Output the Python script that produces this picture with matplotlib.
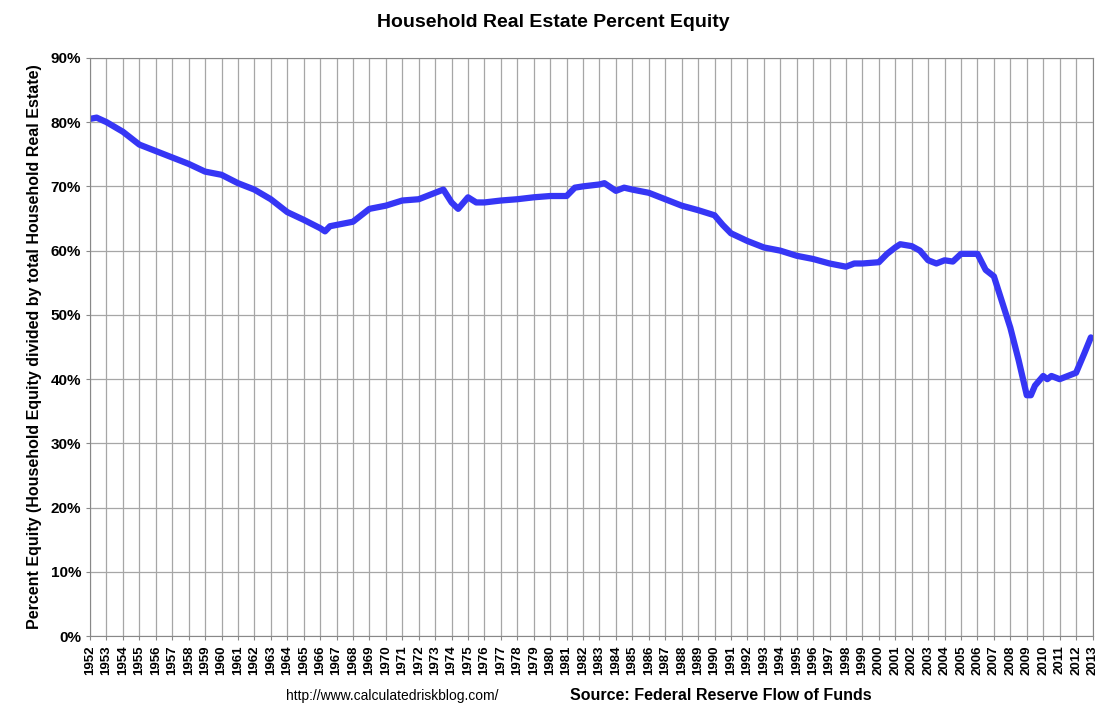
import matplotlib.pyplot as plt
from matplotlib.ticker import FuncFormatter

years = [1952.0, 1952.4, 1953.0, 1954.0, 1955.0, 1956.0, 1957.0, 1958.0, 1959.0, 1960.0,
         1961.0, 1962.0, 1963.0, 1964.0, 1965.0, 1966.0, 1966.3, 1966.6, 1967.0, 1968.0,
         1969.0, 1970.0, 1971.0, 1972.0, 1973.0, 1973.5, 1974.0, 1974.4, 1975.0, 1975.5,
         1976.0, 1977.0, 1978.0, 1979.0, 1980.0, 1981.0, 1981.5, 1982.0, 1983.0, 1983.3,
         1984.0, 1984.5, 1985.0, 1986.0, 1987.0, 1988.0, 1989.0, 1990.0, 1990.5, 1991.0,
         1992.0, 1993.0, 1994.0, 1995.0, 1996.0, 1997.0, 1998.0, 1998.5, 1999.0, 2000.0,
         2000.5, 2001.0, 2001.3, 2002.0, 2002.5, 2003.0, 2003.5, 2004.0, 2004.5, 2005.0,
         2006.0, 2006.5, 2007.0, 2007.5, 2008.0, 2008.5, 2009.0, 2009.25, 2009.5, 2010.0,
         2010.25, 2010.5, 2011.0, 2011.5, 2012.0, 2012.5, 2012.9]
equity = [80.5, 80.7, 80.0, 78.5, 76.5, 75.5, 74.5, 73.5, 72.3, 71.8,
          70.5, 69.5, 68.0, 66.0, 64.8, 63.5, 63.0, 63.8, 64.0, 64.5,
          66.5, 67.0, 67.8, 68.0, 69.0, 69.5, 67.5, 66.5, 68.3, 67.5,
          67.5, 67.8, 68.0, 68.3, 68.5, 68.5, 69.8, 70.0, 70.3, 70.5,
          69.3, 69.8, 69.5, 69.0, 68.0, 67.0, 66.3, 65.5, 64.0, 62.7,
          61.5, 60.5, 60.0, 59.2, 58.7, 58.0, 57.5, 58.0, 58.0, 58.2,
          59.5, 60.5, 61.0, 60.7, 60.0, 58.5, 58.0, 58.5, 58.3, 59.5,
          59.5, 57.0, 56.0, 52.0, 48.0, 43.0, 37.5, 37.5, 39.0, 40.5,
          40.0, 40.5, 40.0, 40.5, 41.0, 44.0, 46.5]
tick_years = list(range(1952, 2014))

plt.rcParams['font.family'] = ['Liberation Sans', 'DejaVu Sans']
fig = plt.figure(figsize=(11.06, 7.23), dpi=100)
ax = fig.add_axes([0.0814, 0.12, 0.9064, 0.8])
ax.plot(years, equity, color='#3636F5', linewidth=4.5, solid_capstyle='round')
ax.set_xlim(1952, 2013)
ax.set_ylim(0, 90)
ax.set_yticks(range(0, 100, 10))
ax.yaxis.set_major_formatter(FuncFormatter(lambda v, p: '%d%%' % v))
ax.set_xticks(tick_years)
ax.set_xticklabels([str(y) for y in tick_years], rotation=90, fontsize=9.5, fontweight='bold')
for lab in ax.get_yticklabels():
    lab.set_fontsize(11)
    lab.set_fontweight('bold')
ax.grid(True, color='#A6A6A6', linewidth=0.9)
ax.set_axisbelow(True)
for s in ax.spines.values():
    s.set_color('#888888')
ax.tick_params(length=3, color='#888888')
ax.set_ylabel('Percent Equity (Household Equity divided by total Household Real Estate)',
              fontsize=11.5, fontweight='bold', labelpad=6)
fig.text(0.5, 0.962, 'Household Real Estate Percent Equity', ha='center',
         fontsize=14, fontweight='bold')
fig.text(0.259, 0.032, 'http://www.calculatedriskblog.com/', fontsize=10)
fig.text(0.515, 0.032, 'Source: Federal Reserve Flow of Funds', fontsize=11.5, fontweight='bold')
fig.savefig('out.png', dpi=100, facecolor='white')
